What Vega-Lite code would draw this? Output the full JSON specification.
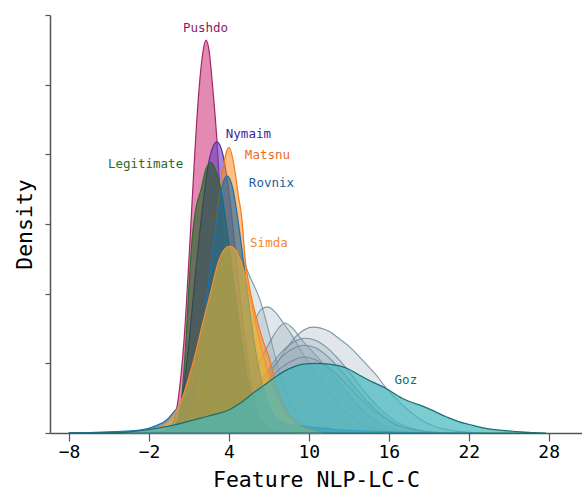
{
  "$schema": "https://vega.github.io/schema/vega-lite/v6.json",
  "width": 532,
  "height": 418,
  "autosize": "none",
  "padding": {"left": 50, "top": 15, "right": 0, "bottom": 58},
  "config": {"view": {"stroke": null}, "font": "DejaVu Sans Mono"},
  "datasets": {
    "curves": [
      {"s":"G1","x":-1,"d":0},{"s":"G1","x":0,"d":0.05},{"s":"G1","x":1,"d":0.3},{"s":"G1","x":2,"d":0.9},{"s":"G1","x":3,"d":1.7},{"s":"G1","x":4,"d":2.4},{"s":"G1","x":4.6,"d":2.58},{"s":"G1","x":5.05,"d":2.48},{"s":"G1","x":5.58,"d":2.24},{"s":"G1","x":6.33,"d":1.91},{"s":"G1","x":6.8,"d":1.6},{"s":"G1","x":7.4,"d":1.15},{"s":"G1","x":8,"d":0.75},{"s":"G1","x":8.7,"d":0.4},{"s":"G1","x":9.5,"d":0.17},{"s":"G1","x":10.5,"d":0.05},{"s":"G1","x":12,"d":0},
      {"s":"G2","x":1,"d":0},{"s":"G2","x":2,"d":0.05},{"s":"G2","x":3,"d":0.2},{"s":"G2","x":4,"d":0.55},{"s":"G2","x":5,"d":1.1},{"s":"G2","x":5.8,"d":1.55},{"s":"G2","x":6.4,"d":1.77},{"s":"G2","x":6.9,"d":1.81},{"s":"G2","x":7.4,"d":1.75},{"s":"G2","x":8.05,"d":1.59},{"s":"G2","x":8.8,"d":1.38},{"s":"G2","x":9.5,"d":1.15},{"s":"G2","x":10.1,"d":0.98},{"s":"G2","x":10.8,"d":0.78},{"s":"G2","x":11.6,"d":0.55},{"s":"G2","x":12.4,"d":0.38},{"s":"G2","x":13.1,"d":0.26},{"s":"G2","x":14,"d":0.13},{"s":"G2","x":15.5,"d":0.04},{"s":"G2","x":17,"d":0},
      {"s":"G3","x":2,"d":0},{"s":"G3","x":3,"d":0.05},{"s":"G3","x":4,"d":0.2},{"s":"G3","x":5,"d":0.5},{"s":"G3","x":6,"d":0.9},{"s":"G3","x":7,"d":1.28},{"s":"G3","x":7.7,"d":1.5},{"s":"G3","x":8.2,"d":1.58},{"s":"G3","x":8.8,"d":1.5},{"s":"G3","x":9.5,"d":1.33},{"s":"G3","x":10.6,"d":1.1},{"s":"G3","x":11.5,"d":0.9},{"s":"G3","x":12.3,"d":0.72},{"s":"G3","x":13.2,"d":0.5},{"s":"G3","x":14.2,"d":0.3},{"s":"G3","x":15.2,"d":0.15},{"s":"G3","x":16.5,"d":0.05},{"s":"G3","x":18,"d":0},
      {"s":"G4","x":2,"d":0},{"s":"G4","x":3,"d":0.02},{"s":"G4","x":4,"d":0.1},{"s":"G4","x":5,"d":0.25},{"s":"G4","x":6,"d":0.48},{"s":"G4","x":7,"d":0.8},{"s":"G4","x":8,"d":1.12},{"s":"G4","x":9,"d":1.38},{"s":"G4","x":10.3,"d":1.52},{"s":"G4","x":11.5,"d":1.46},{"s":"G4","x":12.3,"d":1.35},{"s":"G4","x":13.1,"d":1.23},{"s":"G4","x":14.1,"d":1.03},{"s":"G4","x":15.2,"d":0.8},{"s":"G4","x":15.7,"d":0.67},{"s":"G4","x":16.5,"d":0.5},{"s":"G4","x":17.5,"d":0.32},{"s":"G4","x":18.5,"d":0.18},{"s":"G4","x":19.5,"d":0.09},{"s":"G4","x":21,"d":0.03},{"s":"G4","x":23,"d":0},
      {"s":"G5","x":2,"d":0},{"s":"G5","x":3,"d":0.04},{"s":"G5","x":4,"d":0.15},{"s":"G5","x":5,"d":0.35},{"s":"G5","x":6,"d":0.62},{"s":"G5","x":7,"d":0.92},{"s":"G5","x":8,"d":1.17},{"s":"G5","x":9,"d":1.32},{"s":"G5","x":9.7,"d":1.36},{"s":"G5","x":10.5,"d":1.33},{"s":"G5","x":11.5,"d":1.2},{"s":"G5","x":12.5,"d":1.0},{"s":"G5","x":13.5,"d":0.76},{"s":"G5","x":14.5,"d":0.52},{"s":"G5","x":15.5,"d":0.32},{"s":"G5","x":16.5,"d":0.17},{"s":"G5","x":17.5,"d":0.08},{"s":"G5","x":19,"d":0.02},{"s":"G5","x":20.5,"d":0},
      {"s":"G6","x":2,"d":0},{"s":"G6","x":3,"d":0.04},{"s":"G6","x":4,"d":0.15},{"s":"G6","x":5,"d":0.34},{"s":"G6","x":6,"d":0.6},{"s":"G6","x":7,"d":0.87},{"s":"G6","x":8,"d":1.1},{"s":"G6","x":9,"d":1.23},{"s":"G6","x":9.6,"d":1.26},{"s":"G6","x":10.4,"d":1.23},{"s":"G6","x":11.4,"d":1.1},{"s":"G6","x":12.4,"d":0.9},{"s":"G6","x":13.4,"d":0.67},{"s":"G6","x":14.4,"d":0.45},{"s":"G6","x":15.4,"d":0.27},{"s":"G6","x":16.4,"d":0.14},{"s":"G6","x":17.5,"d":0.06},{"s":"G6","x":19,"d":0.01},{"s":"G6","x":20,"d":0},
      {"s":"G7","x":2,"d":0},{"s":"G7","x":3,"d":0.05},{"s":"G7","x":4,"d":0.16},{"s":"G7","x":5,"d":0.33},{"s":"G7","x":6,"d":0.55},{"s":"G7","x":7,"d":0.77},{"s":"G7","x":8,"d":0.95},{"s":"G7","x":9,"d":1.06},{"s":"G7","x":9.6,"d":1.09},{"s":"G7","x":10.4,"d":1.06},{"s":"G7","x":11.4,"d":0.95},{"s":"G7","x":12.4,"d":0.78},{"s":"G7","x":13.4,"d":0.58},{"s":"G7","x":14.4,"d":0.4},{"s":"G7","x":15.4,"d":0.25},{"s":"G7","x":16.4,"d":0.13},{"s":"G7","x":17.5,"d":0.06},{"s":"G7","x":19,"d":0.015},{"s":"G7","x":20.5,"d":0},
      {"s":"Pushdo","x":-8,"d":0},{"s":"Pushdo","x":-1.93,"d":0.007},{"s":"Pushdo","x":-0.8,"d":0.03},{"s":"Pushdo","x":-0.28,"d":0.115},{"s":"Pushdo","x":0.18,"d":0.47},{"s":"Pushdo","x":0.63,"d":1.33},{"s":"Pushdo","x":1.08,"d":2.77},{"s":"Pushdo","x":1.45,"d":4.06},{"s":"Pushdo","x":1.75,"d":4.92},{"s":"Pushdo","x":2.05,"d":5.47},{"s":"Pushdo","x":2.28,"d":5.64},{"s":"Pushdo","x":2.5,"d":5.5},{"s":"Pushdo","x":2.8,"d":4.92},{"s":"Pushdo","x":3.1,"d":4.2},{"s":"Pushdo","x":3.4,"d":3.2},{"s":"Pushdo","x":3.7,"d":2.05},{"s":"Pushdo","x":4.08,"d":1.05},{"s":"Pushdo","x":4.53,"d":0.4},{"s":"Pushdo","x":5.13,"d":0.115},{"s":"Pushdo","x":6.33,"d":0.014},{"s":"Pushdo","x":8.58,"d":0},
      {"s":"Nymaim","x":-3,"d":0},{"s":"Nymaim","x":-1,"d":0.01},{"s":"Nymaim","x":0,"d":0.1},{"s":"Nymaim","x":0.5,"d":0.5},{"s":"Nymaim","x":1.0,"d":1.3},{"s":"Nymaim","x":1.5,"d":2.3},{"s":"Nymaim","x":2.0,"d":3.2},{"s":"Nymaim","x":2.5,"d":3.9},{"s":"Nymaim","x":3.1,"d":4.18},{"s":"Nymaim","x":3.6,"d":3.95},{"s":"Nymaim","x":4.1,"d":3.3},{"s":"Nymaim","x":4.6,"d":2.4},{"s":"Nymaim","x":5.1,"d":1.5},{"s":"Nymaim","x":5.6,"d":0.8},{"s":"Nymaim","x":6.2,"d":0.3},{"s":"Nymaim","x":7,"d":0.08},{"s":"Nymaim","x":8,"d":0.01},{"s":"Nymaim","x":9,"d":0},
      {"s":"Matsnu","x":-2,"d":0},{"s":"Matsnu","x":0.2,"d":0.03},{"s":"Matsnu","x":0.9,"d":0.15},{"s":"Matsnu","x":1.4,"d":0.45},{"s":"Matsnu","x":1.9,"d":1.0},{"s":"Matsnu","x":2.4,"d":1.9},{"s":"Matsnu","x":2.9,"d":2.8},{"s":"Matsnu","x":3.4,"d":3.6},{"s":"Matsnu","x":4.0,"d":4.1},{"s":"Matsnu","x":4.5,"d":3.7},{"s":"Matsnu","x":4.68,"d":3.44},{"s":"Matsnu","x":4.98,"d":3.06},{"s":"Matsnu","x":5.2,"d":2.53},{"s":"Matsnu","x":5.58,"d":2.05},{"s":"Matsnu","x":6.0,"d":1.7},{"s":"Matsnu","x":6.6,"d":1.3},{"s":"Matsnu","x":7.07,"d":1.05},{"s":"Matsnu","x":7.3,"d":0.86},{"s":"Matsnu","x":7.8,"d":0.55},{"s":"Matsnu","x":8.5,"d":0.28},{"s":"Matsnu","x":9.5,"d":0.1},{"s":"Matsnu","x":11,"d":0.02},{"s":"Matsnu","x":12,"d":0},
      {"s":"Legitimate","x":-4,"d":0},{"s":"Legitimate","x":-2,"d":0.01},{"s":"Legitimate","x":-0.5,"d":0.05},{"s":"Legitimate","x":0.18,"d":0.19},{"s":"Legitimate","x":0.5,"d":0.6},{"s":"Legitimate","x":0.8,"d":1.4},{"s":"Legitimate","x":1.0,"d":2.1},{"s":"Legitimate","x":1.23,"d":2.77},{"s":"Legitimate","x":1.5,"d":3.2},{"s":"Legitimate","x":1.9,"d":3.49},{"s":"Legitimate","x":2.3,"d":3.8},{"s":"Legitimate","x":2.65,"d":3.88},{"s":"Legitimate","x":3.0,"d":3.78},{"s":"Legitimate","x":3.4,"d":3.49},{"s":"Legitimate","x":3.8,"d":3.0},{"s":"Legitimate","x":4.2,"d":2.4},{"s":"Legitimate","x":4.6,"d":1.8},{"s":"Legitimate","x":5.0,"d":1.25},{"s":"Legitimate","x":5.5,"d":0.7},{"s":"Legitimate","x":6.0,"d":0.35},{"s":"Legitimate","x":6.6,"d":0.15},{"s":"Legitimate","x":7.5,"d":0.04},{"s":"Legitimate","x":9,"d":0},
      {"s":"Rovnix","x":-8,"d":0.003},{"s":"Rovnix","x":-6,"d":0.01},{"s":"Rovnix","x":-4,"d":0.025},{"s":"Rovnix","x":-2.7,"d":0.04},{"s":"Rovnix","x":-1.4,"d":0.11},{"s":"Rovnix","x":-0.65,"d":0.19},{"s":"Rovnix","x":-0.2,"d":0.29},{"s":"Rovnix","x":0.5,"d":0.45},{"s":"Rovnix","x":1.0,"d":0.6},{"s":"Rovnix","x":1.5,"d":0.85},{"s":"Rovnix","x":1.83,"d":1.15},{"s":"Rovnix","x":2.1,"d":1.6},{"s":"Rovnix","x":2.43,"d":2.1},{"s":"Rovnix","x":2.8,"d":2.65},{"s":"Rovnix","x":3.17,"d":3.16},{"s":"Rovnix","x":3.5,"d":3.55},{"s":"Rovnix","x":3.85,"d":3.69},{"s":"Rovnix","x":4.3,"d":3.5},{"s":"Rovnix","x":4.6,"d":3.16},{"s":"Rovnix","x":5.0,"d":2.6},{"s":"Rovnix","x":5.4,"d":2.0},{"s":"Rovnix","x":5.9,"d":1.3},{"s":"Rovnix","x":6.5,"d":0.7},{"s":"Rovnix","x":7.2,"d":0.3},{"s":"Rovnix","x":8,"d":0.15},{"s":"Rovnix","x":9,"d":0.11},{"s":"Rovnix","x":10,"d":0.09},{"s":"Rovnix","x":12,"d":0.05},{"s":"Rovnix","x":14,"d":0.03},{"s":"Rovnix","x":17,"d":0.01},{"s":"Rovnix","x":20,"d":0},
      {"s":"Simda","x":-4,"d":0},{"s":"Simda","x":-3,"d":0.01},{"s":"Simda","x":-1.5,"d":0.06},{"s":"Simda","x":-0.65,"d":0.14},{"s":"Simda","x":0,"d":0.3},{"s":"Simda","x":0.5,"d":0.5},{"s":"Simda","x":1.0,"d":0.8},{"s":"Simda","x":1.5,"d":1.15},{"s":"Simda","x":2.0,"d":1.55},{"s":"Simda","x":2.6,"d":2.0},{"s":"Simda","x":3.2,"d":2.45},{"s":"Simda","x":3.6,"d":2.62},{"s":"Simda","x":4.07,"d":2.68},{"s":"Simda","x":4.6,"d":2.6},{"s":"Simda","x":5.1,"d":2.35},{"s":"Simda","x":5.6,"d":1.95},{"s":"Simda","x":6.1,"d":1.5},{"s":"Simda","x":6.6,"d":1.1},{"s":"Simda","x":7.2,"d":0.7},{"s":"Simda","x":7.9,"d":0.4},{"s":"Simda","x":8.7,"d":0.18},{"s":"Simda","x":9.6,"d":0.07},{"s":"Simda","x":11,"d":0},
      {"s":"Goz","x":-8,"d":0},{"s":"Goz","x":-5,"d":0.005},{"s":"Goz","x":-3,"d":0.025},{"s":"Goz","x":-1,"d":0.08},{"s":"Goz","x":0,"d":0.12},{"s":"Goz","x":1,"d":0.17},{"s":"Goz","x":2,"d":0.22},{"s":"Goz","x":3,"d":0.27},{"s":"Goz","x":3.85,"d":0.32},{"s":"Goz","x":5,"d":0.45},{"s":"Goz","x":5.8,"d":0.57},{"s":"Goz","x":6.6,"d":0.68},{"s":"Goz","x":7.45,"d":0.8},{"s":"Goz","x":8.5,"d":0.92},{"s":"Goz","x":9.6,"d":0.99},{"s":"Goz","x":10.5,"d":1.0},{"s":"Goz","x":11.5,"d":0.99},{"s":"Goz","x":12.85,"d":0.93},{"s":"Goz","x":13.8,"d":0.83},{"s":"Goz","x":14.8,"d":0.73},{"s":"Goz","x":15.7,"d":0.65},{"s":"Goz","x":17,"d":0.5},{"s":"Goz","x":18.85,"d":0.36},{"s":"Goz","x":20.35,"d":0.23},{"s":"Goz","x":21.3,"d":0.16},{"s":"Goz","x":22.3,"d":0.11},{"s":"Goz","x":23.5,"d":0.06},{"s":"Goz","x":25.3,"d":0.025},{"s":"Goz","x":26.5,"d":0.01},{"s":"Goz","x":27.8,"d":0}
    ],
    "labels": [
      {"label":"Pushdo","x":2.24,"d":5.81},
      {"label":"Nymaim","x":5.46,"d":4.29},
      {"label":"Matsnu","x":6.89,"d":3.99},
      {"label":"Legitimate","x":-2.26,"d":3.86},
      {"label":"Rovnix","x":7.19,"d":3.59},
      {"label":"Simda","x":7.0,"d":2.73},
      {"label":"Goz","x":17.28,"d":0.76}
    ]
  },
  "data": {"name": "curves"},
  "encoding": {
    "x": {
      "field": "x", "type": "quantitative",
      "scale": {"domain": [-9.43, 30.5], "nice": false, "zero": false},
      "axis": {
        "values": [-8, -2, 4, 10, 16, 22, 28], "grid": false,
        "domainColor": "#555555", "domainWidth": 1.5, "tickColor": "#555555", "tickWidth": 1.2, "tickSize": 8,
        "labelFontSize": 18, "labelFont": "DejaVu Sans Mono", "labelColor": "#000000", "labelPadding": 2,
        "title": "Feature NLP-LC-C", "titleFontSize": 21.5, "titleFont": "DejaVu Sans Mono", "titleFontWeight": "normal", "titleColor": "#000000", "titlePadding": 8
      }
    },
    "y": {
      "field": "d", "type": "quantitative", "stack": null,
      "scale": {"domain": [0, 6], "nice": false},
      "axis": {
        "values": [0, 1, 2, 3, 4, 5, 6], "labels": false, "grid": false,
        "domainColor": "#555555", "domainWidth": 1.5, "tickColor": "#555555", "tickWidth": 1.2, "tickSize": 5,
        "title": "Density", "titleFontSize": 21.5, "titleFont": "DejaVu Sans Mono", "titleFontWeight": "normal", "titleColor": "#000000", "titlePadding": 8
      }
    }
  },
  "layer": [
    {
      "transform": [{"filter": {"field": "s", "oneOf": ["G1","G2","G3","G4","G5","G6","G7"]}}],
      "mark": {"type": "area", "interpolate": "monotone", "fill": "#8fa7b2", "fillOpacity": 0.28, "stroke": "#6c8896", "strokeWidth": 1.1, "strokeOpacity": 0.85},
      "encoding": {"detail": {"field": "s"}}
    },
    {
      "transform": [{"filter": {"field": "s", "equal": "Pushdo"}}],
      "mark": {"type": "area", "interpolate": "monotone", "fill": "#cb2973", "fillOpacity": 0.55, "stroke": "#a3266c", "strokeWidth": 1.2}
    },
    {
      "transform": [{"filter": {"field": "s", "equal": "Nymaim"}}],
      "mark": {"type": "area", "interpolate": "monotone", "fill": "#6a3bbf", "fillOpacity": 0.6, "stroke": "#5030a0", "strokeWidth": 1.2}
    },
    {
      "transform": [{"filter": {"field": "s", "equal": "Matsnu"}}],
      "mark": {"type": "area", "interpolate": "monotone", "fill": "#ff8c1a", "fillOpacity": 0.55, "stroke": "#f07a20", "strokeWidth": 1.2}
    },
    {
      "transform": [{"filter": {"field": "s", "equal": "Legitimate"}}],
      "mark": {"type": "area", "interpolate": "monotone", "fill": "#1b5e20", "fillOpacity": 0.6, "stroke": "#2e6b30", "strokeWidth": 1.2}
    },
    {
      "transform": [{"filter": {"field": "s", "equal": "Rovnix"}}],
      "mark": {"type": "area", "interpolate": "monotone", "fill": "#1565a0", "fillOpacity": 0.6, "stroke": "#1f6fb0", "strokeWidth": 1.2}
    },
    {
      "transform": [{"filter": {"field": "s", "equal": "Simda"}}],
      "mark": {"type": "area", "interpolate": "monotone", "fill": "#e8b830", "fillOpacity": 0.6, "stroke": "#f59030", "strokeWidth": 1.2}
    },
    {
      "transform": [{"filter": {"field": "s", "equal": "Goz"}}],
      "mark": {"type": "area", "interpolate": "monotone", "fill": "#44b8bf", "fillOpacity": 0.7, "stroke": "#1a6e72", "strokeWidth": 1.2}
    },
    {
      "data": {"name": "labels"},
      "mark": {"type": "text", "font": "DejaVu Sans Mono", "fontSize": 12.5, "align": "center", "baseline": "middle"},
      "encoding": {
        "text": {"field": "label"},
        "color": {
          "field": "label", "type": "nominal", "legend": null,
          "scale": {"domain": ["Pushdo","Nymaim","Matsnu","Legitimate","Rovnix","Simda","Goz"],
                    "range": ["#8b1a5e","#3a1f9e","#ee6a1e","#2a6a2a","#1a5f99","#f58a2a","#0d6b6b"]}
        }
      }
    }
  ]
}
